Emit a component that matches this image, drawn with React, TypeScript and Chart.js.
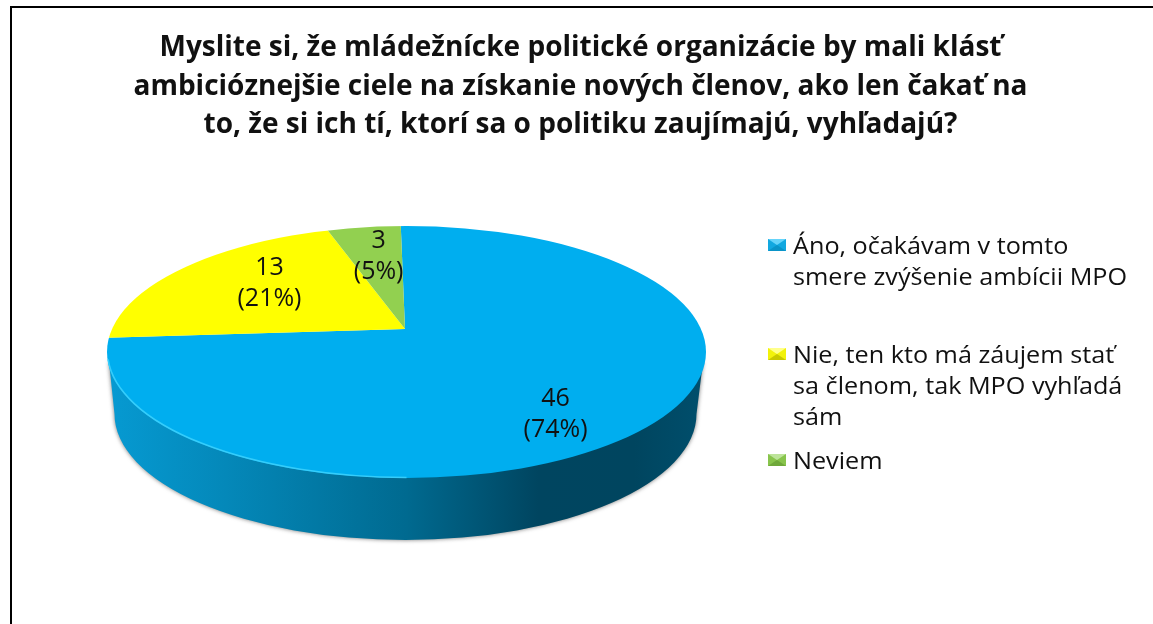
import React, { useEffect, useRef } from "react";
import { Chart, registerables } from "chart.js";

Chart.register(...registerables);

const titleLines = [
  "Myslite si, že mládežnícke politické organizácie by mali klásť",
  "ambicióznejšie ciele na získanie nových členov, ako len čakať na",
  "to, že si ich tí, ktorí sa o politiku zaujímajú, vyhľadajú?",
];
const categories = [
  "Áno, očakávam v tomto smere zvýšenie ambícii MPO",
  "Nie, ten kto má záujem stať sa členom, tak MPO vyhľadá sám",
  "Neviem",
];
const legendLines = [
  ["Áno, očakávam v tomto", "smere zvýšenie ambícii MPO"],
  ["Nie, ten kto má záujem stať", "sa členom, tak MPO vyhľadá", "sám"],
  ["Neviem"],
];
const values = [46, 13, 3];
const sliceColors = ["#00AEEF", "#FFFF00", "#92D050"];
const bevels = [
  ["#66d4fa", "#12a8e0", "#0a94c8", "#12a8e0"],
  ["#ffff8c", "#f2f20a", "#c8c800", "#f2f20a"],
  ["#bde49a", "#88c44c", "#6fa83a", "#88c44c"],
];
const legendTops = [229, 338, 444];

// layout of the tilted pie
const APEX = { x: 405, y: 329 };
const FACE = { cx: 406.5, cy: 352, rx: 299.5, ry: 126 };
const WALL = { cx: 405.5, cy: 414, rx: 291, ry: 126, top: 362 };
const DISC_RX = 400;
const DISC_RY = 170;
const LABEL_F = 0.45;
const labelNudge = [
  [18, 34],
  [14, -3.5],
  [4, 3],
];

const tiltPlugin = {
  id: "tilt",
  beforeDatasetsDraw(chart: any) {
    const ctx = chart.ctx;
    const arc = chart.getDatasetMeta(0).data[0];
    const { x, y, outerRadius } = arc.getProps(["x", "y", "outerRadius"], true);
    // side wall
    ctx.save();
    const grad = ctx.createLinearGradient(FACE.cx - FACE.rx, 0, FACE.cx + FACE.rx, 0);
    grad.addColorStop(0, "#069ad2");
    grad.addColorStop(0.2, "#0488b9");
    grad.addColorStop(0.5, "#006a90");
    grad.addColorStop(0.72, "#004560");
    grad.addColorStop(0.88, "#00455f");
    grad.addColorStop(1, "#004f6d");
    ctx.shadowColor = "rgba(60,60,60,0.7)";
    ctx.shadowBlur = 4;
    ctx.fillStyle = grad;
    ctx.beginPath();
    ctx.moveTo(FACE.cx - FACE.rx + 2, WALL.top);
    ctx.ellipse(WALL.cx, WALL.cy, WALL.rx, WALL.ry, 0, Math.PI, 0, true);
    ctx.lineTo(FACE.cx + FACE.rx - 3, WALL.top);
    ctx.closePath();
    ctx.fill();
    ctx.restore();
    // face: the disc is clipped to the ellipse, apex sits off centre
    ctx.save();
    ctx.beginPath();
    ctx.ellipse(FACE.cx, FACE.cy, FACE.rx, FACE.ry, 0, 0, Math.PI * 2);
    ctx.clip();
    ctx.translate(APEX.x, APEX.y);
    ctx.scale(DISC_RX / outerRadius, DISC_RY / outerRadius);
    ctx.translate(-x, -y);
  },
  afterDatasetsDraw(chart: any) {
    const ctx = chart.ctx;
    ctx.restore();
    // rim highlight
    ctx.save();
    ctx.strokeStyle = "#35cdfb";
    ctx.lineWidth = 1.6;
    ctx.beginPath();
    ctx.ellipse(FACE.cx, FACE.cy - 0.5, FACE.rx - 0.5, FACE.ry, 0, Math.PI * 0.5, Math.PI * 0.98);
    ctx.stroke();
    ctx.restore();
    // value labels
    const total = values.reduce((a, b) => a + b, 0);
    ctx.save();
    ctx.fillStyle = "#111";
    ctx.font = '25px "Open Sans"';
    ctx.textAlign = "center";
    ctx.textBaseline = "middle";
    chart.getDatasetMeta(0).data.forEach((el: any, i: number) => {
      const { startAngle, endAngle } = el.getProps(["startAngle", "endAngle"], true);
      const mid = (startAngle + endAngle) / 2;
      const px = APEX.x + Math.cos(mid) * DISC_RX * LABEL_F + labelNudge[i][0];
      const py = APEX.y + Math.sin(mid) * DISC_RY * LABEL_F + labelNudge[i][1];
      ctx.fillText(String(values[i]), px, py - 15.5);
      ctx.fillText(`(${Math.round((values[i] / total) * 100)}%)`, px, py + 15.5);
    });
    ctx.restore();
  },
};

export default function App() {
  const ref = useRef<HTMLCanvasElement>(null);
  useEffect(() => {
    const chart = new Chart(ref.current!, {
      type: "pie",
      data: {
        labels: categories,
        datasets: [{ data: values, backgroundColor: sliceColors, borderWidth: 0 }],
      },
      options: {
        responsive: false,
        animation: false,
        rotation: -1,
        layout: { padding: 0 },
        plugins: {
          legend: { display: false },
          tooltip: { enabled: false },
          title: {
            display: true,
            text: titleLines,
            color: "#111",
            font: { family: '"Open Sans"', size: 28, weight: "bold", lineHeight: 1.375 },
            padding: { top: 29, bottom: 0 },
          },
        },
      },
      plugins: [tiltPlugin],
    } as any);
    return () => chart.destroy();
  }, []);
  return (
    <div style={{ position: "fixed", left: 0, top: 0, width: 1153, height: 624, overflow: "hidden", background: "#fff" }}>
      <canvas ref={ref} width={1161} height={624} style={{ position: "absolute", left: 0, top: 0 }} />
      <div style={{ position: "absolute", left: 10, top: 6, width: 1300, height: 800, border: "2px solid #000", boxSizing: "border-box" }} />
      {legendLines.map((lines, i) => (
        <div key={i} style={{ position: "absolute", left: 768, top: legendTops[i], display: "flex", fontFamily: '"Open Sans"', fontSize: 24, lineHeight: "31px", color: "#111", whiteSpace: "nowrap" }}>
          <span style={{ display: "block", flex: "none", width: 0, height: 0, marginTop: 10, marginRight: 7, borderStyle: "solid", borderWidth: "6.5px 9px", borderColor: `${bevels[i][0]} ${bevels[i][1]} ${bevels[i][2]} ${bevels[i][3]}` }} />
          <div style={{ transform: "scaleX(1.05)", transformOrigin: "left" }}>{lines.map((l) => <div key={l}>{l}</div>)}</div>
        </div>
      ))}
    </div>
  );
}
